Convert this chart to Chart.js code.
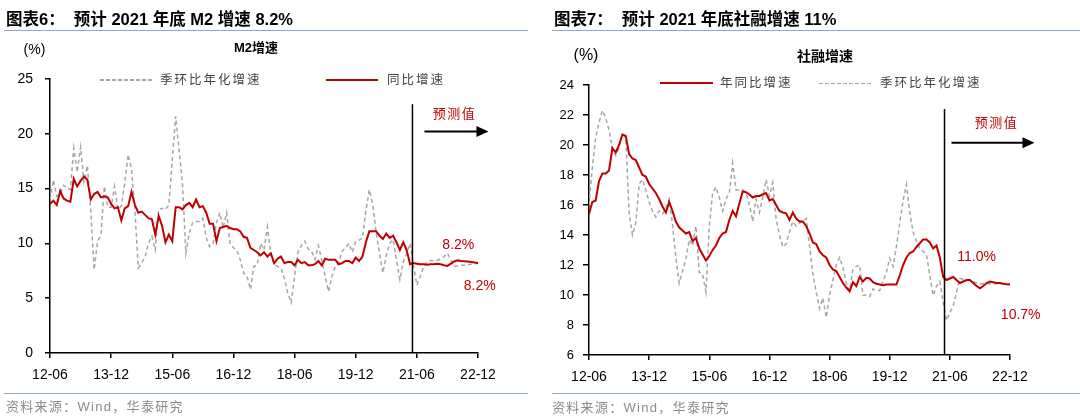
<!DOCTYPE html>
<html>
<head>
<meta charset="utf-8">
<script src="https://cdn.jsdelivr.net/npm/chart.js@4.4.1/dist/chart.umd.min.js"></script>
<style>
  body { margin: 0; background: #fff; }
  #page { position: relative; width: 1080px; height: 418px; overflow: hidden;
          font-family: "Liberation Sans", Arial, "Noto Sans CJK SC", sans-serif; }
  canvas { position: absolute; top: 0; }
  .t { position: absolute; white-space: pre; line-height: 1; transform: translateY(-50%); }
  .c { transform: translate(-50%, -50%); }
  .title { font-size: 16.5px; font-weight: bold; color: #000; }
  .sub { font-size: 13px; font-weight: bold; color: #000; }
  .leg { font-size: 12.5px; letter-spacing: 2px; color: #444; }
  .src { font-size: 13px; letter-spacing: 1.3px; color: #8c8c8c; }
  .rule { position: absolute; height: 1px; background: #8fa9c8; }
  .solid { position: absolute; height: 2px; background: #c00000; }
  .dash { position: absolute; height: 1.5px;
          background: repeating-linear-gradient(to right, #a6a6a6 0 4px, transparent 4px 6px); }
</style>
</head>
<body>
<div id="page">
  <canvas id="m2" width="540" height="418" style="left:0"></canvas>
  <canvas id="tsf" width="540" height="418" style="left:540px"></canvas>

  <div class="t title" style="left:6px;top:19px">图表6：  预计 2021 年底 M2 增速 8.2%</div>
  <div class="rule" style="left:4px;top:30px;width:524px"></div>
  <div class="t c" style="left:34.5px;top:49px;font-size:14px">(%)</div>
  <div class="t c sub" style="left:256px;top:47px">M2增速</div>
  <div class="dash" style="left:100px;top:79px;width:53px"></div>
  <div class="t leg" style="left:160px;top:80px">季环比年化增速</div>
  <div class="solid" style="left:326px;top:79px;width:52px"></div>
  <div class="t leg" style="left:387px;top:80px">同比增速</div>
  <div class="rule" style="left:4px;top:393px;width:524px"></div>
  <div class="t src" style="left:6px;top:406px">资料来源：Wind，华泰研究</div>

  <div class="t title" style="left:554px;top:19px">图表7：  预计 2021 年底社融增速 11%</div>
  <div class="rule" style="left:552px;top:30px;width:528px"></div>
  <div class="t c" style="left:586px;top:55px;font-size:16px">(%)</div>
  <div class="t c sub" style="left:825px;top:56px;font-size:14px">社融增速</div>
  <div class="solid" style="left:660px;top:82px;width:53px"></div>
  <div class="t leg" style="left:720px;top:83px">年同比增速</div>
  <div class="dash" style="left:819px;top:82.5px;width:54px"></div>
  <div class="t leg" style="left:880px;top:83px">季环比年化增速</div>
  <div class="rule" style="left:552px;top:393px;width:528px"></div>
  <div class="t src" style="left:552px;top:407px">资料来源：Wind，华泰研究</div>
</div>

<script>
// monthly, 2012-06 .. 2022-12 (from 2021-05 on: forecast)
const months = [];
for (let k = 0; k < 127; k++) {
  const t = 2012 * 12 + 5 + k;
  months.push(String(Math.floor(t / 12)).slice(2) + '-' + String(t % 12 + 1).padStart(2, '0'));
}

// M2 同比增速
const m2YoY = [
  13.6, 13.9, 13.5, 14.8, 14.1, 13.9, 13.8,
  15.9, 15.2, 15.7, 16.1, 15.8, 14.0, 14.5, 14.7, 14.2, 14.3, 14.2, 13.6,
  13.2, 13.3, 12.1, 13.2, 13.4, 14.7, 13.5, 12.8, 12.9, 12.6, 12.3, 12.2,
  10.8, 12.5, 11.6, 10.1, 10.8, 10.2, 13.3, 13.3, 13.1, 13.5, 13.7, 13.3,
  14.0, 13.3, 13.4, 12.8, 11.8, 11.8, 10.2, 11.4, 11.5, 11.6, 11.4, 11.3,
  11.3, 11.1, 10.6, 10.5, 9.6, 9.4, 9.2, 8.9, 9.2, 8.8, 9.1, 8.2,
  8.6, 8.8, 8.2, 8.3, 8.3, 8.0, 8.5, 8.2, 8.3, 8.0, 8.0, 8.1,
  8.4, 8.0, 8.6, 8.5, 8.5, 8.5, 8.1, 8.2, 8.4, 8.4, 8.2, 8.7,
  8.4, 8.8, 10.1, 11.1, 11.1, 11.1, 10.7, 10.4, 10.9, 10.5, 10.7, 10.1,
  9.4, 10.1, 9.4, 8.1,
  8.2, 8.15, 8.1, 8.1, 8.05, 8.1, 8.1, 8.15, 8.1, 8.0, 7.95, 8.15, 8.35, 8.45, 8.4, 8.38, 8.35, 8.3, 8.25, 8.2
];
// M2 季环比年化增速
const m2QoQAnn = [
  14.0, 15.8, 14.3, 14.5, 15.3, 15.1, 14.9, 18.7, 16.5, 18.8,
  15.6, 17.1, 13.0, 7.6, 10.2, 10.8, 15.2, 13.3, 13.3, 15.2,
  13.1, 13.4, 15.5, 18.1, 16.8, 13.0, 7.75, 8.2, 8.8, 10.0,
  10.65, 9.4, 13.1, 13.2, 13.1, 13.5, 17.7, 21.6, 18.5, 15.5,
  9.1, 11.0, 11.9, 12.0, 12.0, 12.3, 10.5, 9.7, 10.0, 11.9,
  12.8, 11.4, 12.8, 10.0, 9.6, 9.4, 8.5, 7.3, 7.0, 5.8,
  7.9, 8.0, 10.0, 9.4, 11.5, 9.0, 8.05, 7.9, 7.75, 6.8,
  5.5, 4.6, 7.0, 9.2, 9.8, 10.2, 9.5, 9.3, 8.55, 9.8,
  8.5, 7.0, 5.6, 7.0, 7.9, 8.2, 9.3, 9.6, 10.0, 9.2,
  10.2, 10.3, 10.5, 13.0, 14.9, 13.6, 11.0, 9.1, 7.3, 8.9,
  10.0, 10.35, 8.5, 6.7, 8.3, 9.1, 10.0, 8.0, 6.2, 7.0,
  7.9, 8.3, 8.45, 8.45, 8.45, 8.6, 8.8, 9.1, 8.5, 7.9,
  7.95, 8.0, 8.0, 8.05, 8.1, 8.15, 8.2
];

// 社融 年同比增速
const tsfYoY = [
  15.4, 16.2, 16.3, 17.6, 18.1, 18.1, 18.3, 19.8, 19.5, 20.0,
  20.7, 20.6, 19.4, 19.1, 19.0, 18.5, 18.0, 17.9, 17.4, 17.1,
  16.8, 16.4, 15.9, 15.5, 16.2, 15.6, 14.9, 14.5, 14.3, 14.1,
  14.2, 13.6, 13.8, 13.1, 12.7, 12.3, 12.6, 13.0, 13.3, 13.8,
  14.1, 14.2, 15.0, 15.6, 15.25, 16.1, 16.9, 16.85, 16.7, 16.5,
  16.6, 16.6, 16.7, 16.8, 16.3, 16.4, 16.0, 15.6, 15.5, 15.45,
  15.0, 15.5, 15.1, 14.9, 14.9, 14.6, 14.1, 13.5, 13.4, 12.9,
  12.65, 12.5, 12.0, 11.7, 11.6, 11.2, 10.8, 10.5, 10.25, 10.85,
  10.6, 11.2, 10.9, 11.15, 11.1, 10.85, 10.75, 10.7, 10.65, 10.7,
  10.7, 10.7, 10.7, 11.3, 12.0, 12.5, 12.8, 12.9, 13.2, 13.45,
  13.7, 13.7, 13.5, 13.1, 13.3, 12.5, 11.2, 11.0, 11.1, 11.2,
  11.0, 10.8, 10.9, 11.0, 11.0, 10.8, 10.6, 10.45, 10.6, 10.8,
  10.9, 10.85, 10.8, 10.8, 10.75, 10.72, 10.7
];
// 社融 季环比年化增速
const tsfQoQAnn = [
  16.0, 18.5, 20.5, 21.5, 22.3, 21.8, 21.0, 19.8, 19.3, 19.8,
  20.8, 20.5, 15.5, 14.0, 14.8, 17.4, 17.7, 17.0, 16.2, 15.6,
  15.2, 15.6, 15.4, 15.8, 16.4, 14.7, 12.5, 10.8, 11.6, 12.4,
  13.7, 13.3, 14.6, 11.5, 11.4, 10.2, 14.6, 16.8, 17.2, 16.5,
  15.6, 16.4, 16.8, 18.8, 17.0, 17.0, 17.0, 16.8, 16.0, 14.9,
  16.4, 15.5, 16.5, 17.7, 16.6, 17.5, 15.05, 14.0, 13.2, 13.4,
  14.2, 14.9, 14.6, 14.8, 14.9, 15.1, 13.3, 11.4, 10.2, 9.1,
  9.8, 8.5, 9.97, 11.0, 12.0, 12.5, 11.8, 10.8, 10.3, 11.7,
  11.9, 12.0, 9.97, 10.0, 9.9, 10.4, 10.3, 10.3, 10.9, 11.5,
  12.45, 11.9, 13.2, 14.8, 16.3, 17.36, 15.5, 14.2, 13.6, 13.1,
  12.9, 12.7, 11.3, 9.97, 10.6, 10.9, 9.5, 8.3, 8.8, 9.3,
  10.2, 11.1, 11.05, 11.0, 11.0, 10.9, 10.8, 10.75, 10.75, 10.75,
  10.75, 10.75, 10.75, 10.75, 10.75, 10.75, 10.75
];

const RED = '#c00000';
const GRAY = '#a6a6a6';
Chart.defaults.font.family = '"Liberation Sans", Arial, sans-serif';

// vertical split line, "预测值" arrow and the end-value labels
const forecastMarks = {
  id: 'forecastMarks',
  afterDatasetsDraw(chart, args, o) {
    const { ctx } = chart;
    const x = chart.scales.x, y = chart.scales.y;
    const lx = x.getPixelForValue(o.splitAt);
    ctx.save();
    ctx.strokeStyle = '#000';
    ctx.fillStyle = '#000';
    ctx.lineWidth = 1.5;
    ctx.beginPath();
    ctx.moveTo(lx, y.getPixelForValue(o.lineTop));
    ctx.lineTo(lx, y.bottom);
    ctx.stroke();

    const ay = y.getPixelForValue(o.arrowY);
    const a0 = lx + o.arrowFrom, a1 = lx + o.arrowTo;
    ctx.lineWidth = 2;
    ctx.beginPath();
    ctx.moveTo(a0, ay);
    ctx.lineTo(a1 - 8, ay);
    ctx.stroke();
    ctx.beginPath();
    ctx.moveTo(a1, ay);
    ctx.lineTo(a1 - 12, ay - 5.5);
    ctx.lineTo(a1 - 12, ay + 5.5);
    ctx.closePath();
    ctx.fill();

    ctx.fillStyle = RED;
    ctx.textAlign = 'center';
    ctx.textBaseline = 'middle';
    ctx.font = '13px "Noto Sans CJK SC", sans-serif';
    ctx.letterSpacing = '1.5px';
    ctx.fillText('预测值', lx + o.textDx, y.getPixelForValue(o.textY));
    ctx.letterSpacing = '0px';
    ctx.font = '14px "Liberation Sans", Arial, sans-serif';
    o.labels.forEach(l => ctx.fillText(l.text, x.getPixelForValue(l.x), y.getPixelForValue(l.y)));
    ctx.restore();
  }
};

const series = vals => vals.map((v, i) => ({ x: i, y: v }));

function makeChart(id, yoy, qoq, yoyName, cfg) {
  return new Chart(document.getElementById(id), {
    type: 'line',
    data: {
      datasets: [
        { label: yoyName, data: series(yoy), borderColor: RED, borderWidth: 2,
          pointRadius: 0, tension: 0 },
        { label: '季环比年化增速', data: series(qoq), borderColor: GRAY, borderWidth: 1.5,
          borderDash: [4, 3], pointRadius: 0, tension: 0 }
      ]
    },
    options: {
      responsive: false,
      animation: false,
      devicePixelRatio: 1,
      layout: { padding: { left: 0, right: cfg.padRight, top: cfg.padTop, bottom: 0 } },
      plugins: {
        legend: { display: false },
        tooltip: { enabled: false },
        forecastMarks: cfg.marks
      },
      scales: {
        x: {
          type: 'linear', min: 0, max: 126,
          afterFit(s) { s.height = cfg.xHeight; },
          border: { color: '#000', width: 1.5 },
          grid: { drawOnChartArea: false, color: '#000', lineWidth: 1.5, tickLength: 5 },
          ticks: { stepSize: 18, autoSkip: false, maxRotation: 0, padding: 9, color: '#000',
                   font: { size: 14 }, callback: v => months[v] }
        },
        y: {
          min: cfg.yMin, max: cfg.yMax,
          afterFit(s) { s.width = cfg.yWidth; },
          border: { color: '#000', width: 1.5 },
          grid: { drawOnChartArea: false, color: '#000', lineWidth: 1.5, tickLength: cfg.yTick },
          ticks: { stepSize: cfg.yStep, padding: cfg.yPad, color: '#000', font: { size: cfg.yFont } }
        }
      }
    },
    plugins: [forecastMarks]
  });
}

makeChart('m2', m2YoY, m2QoQAnn, '同比增速', {
  padRight: 62, padTop: 79, xHeight: 65, yWidth: 50, yTick: 5, yPad: 12, yFont: 14,
  yMin: 0, yMax: 25, yStep: 5,
  marks: {
    splitAt: 106.7, lineTop: 22.7, arrowY: 20.2, arrowFrom: 12, arrowTo: 76,
    textDx: 42, textY: 21.9,
    labels: [{ text: '8.2%', x: 120.2, y: 9.85 }, { text: '8.2%', x: 126.5, y: 6.1 }]
  }
});

makeChart('tsf', tsfYoY, tsfQoQAnn, '年同比增速', {
  padRight: 70, padTop: 85, xHeight: 63, yWidth: 49, yTick: 6, yPad: 9, yFont: 13,
  yMin: 6, yMax: 24, yStep: 2,
  marks: {
    splitAt: 106.4, lineTop: 22.4, arrowY: 20.15, arrowFrom: 7, arrowTo: 90,
    textDx: 52, textY: 21.5,
    labels: [{ text: '11.0%', x: 116, y: 12.55 }, { text: '10.7%', x: 129.2, y: 8.67 }]
  }
});
</script>
</body>
</html>
